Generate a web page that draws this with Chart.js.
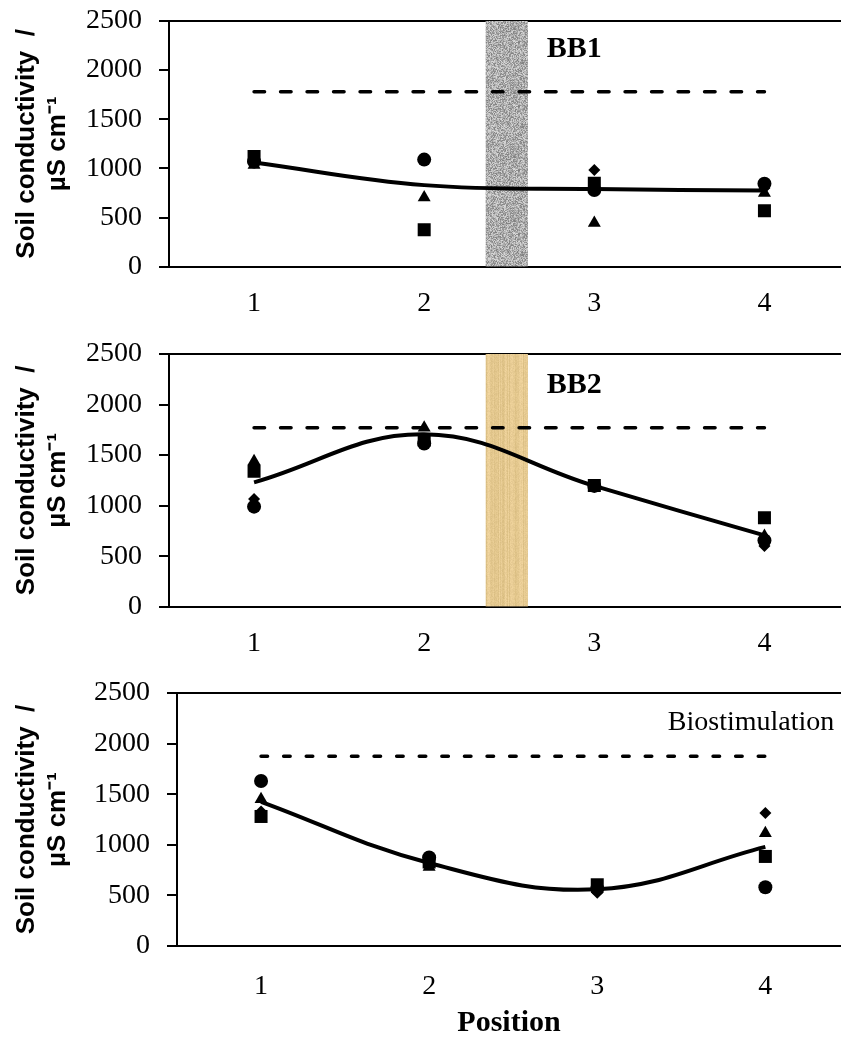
<!DOCTYPE html>
<html>
<head>
<meta charset="utf-8">
<script src="https://cdn.jsdelivr.net/npm/chart.js@4.4.1/dist/chart.umd.min.js"></script>
<style>
  html, body { margin: 0; padding: 0; background: #fff; overflow: hidden; }
  .panel { position: absolute; left: 0; width: 841px; }
</style>
</head>
<body>
<div class="panel" style="top:0;height:330px"><canvas id="bb1Chart"></canvas></div>
<div class="panel" style="top:334px;height:336px"><canvas id="bb2Chart"></canvas></div>
<div class="panel" style="top:673px;height:368px"><canvas id="bioChart"></canvas></div>
<script>
// data
const positions = [1, 2, 3, 4];
const yTicks = [0, 500, 1000, 1500, 2000, 2500];
const bandX = [2.36, 2.61];

const bb1Circle = [1070, 1090, 780, 845];
const bb1Square = [1120, 375, 848, 570];
const bb1Triangle = [1035, 705, 445, 750];
const bb1Diamond = [1060, 375, 985, 800];
const bb1Fit = [1060, 830, 790, 775];
const bb1Ref = 1780;

const bb2Circle = [990, 1615, 1195, 655];
const bb2Square = [1340, 1650, 1200, 880];
const bb2Triangle = [1440, 1770, 1190, 700];
const bb2Diamond = [1065, 1630, 1190, 600];
const bb2Fit = [1230, 1705, 1195, 705];
const bb2Ref = 1770;

const bioCircle = [1630, 875, 565, 580];
const bioSquare = [1280, 830, 605, 885];
const bioTriangle = [1450, 780, 560, 1115];
const bioDiamond = [1330, 810, 525, 1315];
const bioFit = [1425, 820, 560, 980];
const bioRef = 1875;

const yTitle = ['Soil conductivity  /', 'µS cm⁻¹'];
const serif = '"Liberation Serif", "Times New Roman", serif';
const sans = '"Liberation Sans", Arial, sans-serif';

function hash(i) {
    let h = Math.imul(i ^ 0x9e3779b9, 2654435761) >>> 0;
    h ^= h >>> 15;
    h = Math.imul(h, 2246822519) >>> 0;
    h ^= h >>> 13;
    return (h >>> 0) / 4294967296;
}

function texture(w, h, paint) {
    const c = document.createElement('canvas');
    c.width = w; c.height = h;
    const g = c.getContext('2d');
    const img = g.createImageData(w, h);
    for (let yy = 0; yy < h; yy++) {
        for (let xx = 0; xx < w; xx++) {
            const rgb = paint(xx, yy);
            const k = (yy * w + xx) * 4;
            img.data[k] = rgb[0];
            img.data[k + 1] = rgb[1];
            img.data[k + 2] = rgb[2];
            img.data[k + 3] = 255;
        }
    }
    g.putImageData(img, 0, 0);
    return g.createPattern(c, 'repeat');
}

const grayGrain = texture(64, 64, (x, y) => {
    const v = 172 + (hash(x * 131 + y * 7919) - 0.5) * 90;
    return [v, v, v];
});
const tanGrain = texture(64, 64, (x, y) => {
    const s = (hash(x * 17 + 3) - 0.5) * 18;
    const n = (hash(x * 263 + y * 4099) - 0.5) * 12;
    return [229 + s + n, 201 + s + n, 144 + s * 1.3 + n];
});

const panelLabel = {
    id: 'panelLabel',
    afterDatasetsDraw(chart, args, opts) {
        const {ctx, scales: {x, y}} = chart;
        ctx.save();
        ctx.font = opts.font;
        ctx.fillStyle = '#000';
        ctx.textAlign = opts.align;
        ctx.textBaseline = 'middle';
        ctx.fillText(opts.text, x.getPixelForValue(opts.x), y.getPixelForValue(opts.y));
        ctx.restore();
    }
};

function pts(arr) {
    return positions.map((x, i) => ({x: x, y: arr[i]}));
}

function marker(arr, style, radius, order) {
    return {
        data: pts(arr), pointStyle: style, pointRadius: radius,
        backgroundColor: '#000', pointBackgroundColor: '#000',
        pointBorderWidth: 0, borderWidth: 0, order: order
    };
}

function buildChart(id, cfg) {
    const datasets = [];
    if (cfg.band) {
        datasets.push({
            data: [{x: bandX[0], y: 2500}, {x: bandX[1], y: 2500}],
            showLine: true, fill: 'origin', backgroundColor: cfg.band,
            borderWidth: 0, pointRadius: 0, order: 10
        });
    }
    datasets.push({
        data: [{x: 1, y: cfg.ref}, {x: 4, y: cfg.ref}],
        showLine: true, borderColor: '#000', borderWidth: 3.5,
        borderDash: cfg.dash, borderCapStyle: 'round', pointRadius: 0, order: 6
    });
    datasets.push({
        data: pts(cfg.fit), showLine: true, borderColor: '#000', borderWidth: 4,
        tension: 0.4, pointRadius: 0, order: 5
    });
    datasets.push(marker(cfg.diamond, 'rectRot', 6, 4));
    datasets.push(marker(cfg.triangle, 'triangle', 7.5, 3));
    datasets.push(marker(cfg.circle, 'circle', 7, 2));
    datasets.push(marker(cfg.square, 'rect', 9.2, 1));

    const tickFont = {family: serif, size: 28, lineHeight: 1};

    new Chart(document.getElementById(id), {
        type: 'scatter',
        data: {datasets: datasets},
        plugins: [panelLabel],
        options: {
            responsive: true,
            maintainAspectRatio: false,
            animation: false,
            events: [],
            layout: {autoPadding: false, padding: {top: cfg.top, left: 0, right: 0, bottom: 0}},
            plugins: {
                legend: {display: false},
                tooltip: {enabled: false},
                panelLabel: cfg.label
            },
            scales: {
                x: {
                    type: 'linear', min: 0.5, max: 4.45,
                    afterBuildTicks: a => { a.ticks = positions.map(v => ({value: v})); },
                    grid: {display: false, drawTicks: false},
                    border: {display: true, color: '#000', width: 2},
                    ticks: {color: '#000', font: tickFont, padding: cfg.xPad, callback: v => String(v)},
                    title: cfg.xTitle ? {
                        display: true, text: cfg.xTitle, color: '#000',
                        font: {family: serif, size: 30, weight: 'bold', lineHeight: 1.2},
                        padding: {top: 0, bottom: 0}
                    } : {display: false},
                    afterFit: s => { s.height = cfg.xHeight; }
                },
                x2: {
                    type: 'linear', position: 'top', min: 0.5, max: 4.45,
                    grid: {display: false, drawTicks: false},
                    ticks: {display: false},
                    border: {display: true, color: '#000', width: 2},
                    afterFit: s => { s.height = 0; }
                },
                y: {
                    min: 0, max: 2500,
                    afterBuildTicks: a => { a.ticks = yTicks.map(v => ({value: v})); },
                    grid: {display: true, drawOnChartArea: false, drawTicks: true, tickLength: 10, color: '#000', lineWidth: 2},
                    border: {display: true, color: '#000', width: 2},
                    ticks: {color: '#000', font: tickFont, padding: 17, callback: v => String(v)},
                    title: {
                        display: true, text: yTitle, color: '#000',
                        font: {family: sans, size: 26, weight: 'bold', lineHeight: 1.2},
                        padding: {top: 11, bottom: 0}
                    },
                    afterFit: s => {
                        s.width = cfg.yWidth;
                        s.paddingTop = 14;
                        s.paddingBottom = 14;
                    }
                }
            }
        }
    });
}

buildChart('bb1Chart', {
    circle: bb1Circle, square: bb1Square, triangle: bb1Triangle, diamond: bb1Diamond,
    fit: bb1Fit, ref: bb1Ref, band: grayGrain, dash: [10.5, 16],
    top: 21, yWidth: 169, xHeight: 63.3, xPad: 22.6,
    label: {text: 'BB1', x: 2.72, y: 2217, align: 'left', font: 'bold 30px ' + serif}
});

buildChart('bb2Chart', {
    circle: bb2Circle, square: bb2Square, triangle: bb2Triangle, diamond: bb2Diamond,
    fit: bb2Fit, ref: bb2Ref, band: tanGrain, dash: [10.5, 16],
    top: 20, yWidth: 169, xHeight: 63.3, xPad: 22.6,
    label: {text: 'BB2', x: 2.72, y: 2188, align: 'left', font: 'bold 30px ' + serif}
});

buildChart('bioChart', {
    circle: bioCircle, square: bioSquare, triangle: bioTriangle, diamond: bioDiamond,
    fit: bioFit, ref: bioRef, band: null, dash: [6.5, 16.1],
    top: 20, yWidth: 177, xHeight: 95, xPad: 26.7, xTitle: 'Position',
    label: {text: 'Biostimulation', x: 4.41, y: 2211, align: 'right', font: '28px ' + serif}
});
</script>
</body>
</html>
